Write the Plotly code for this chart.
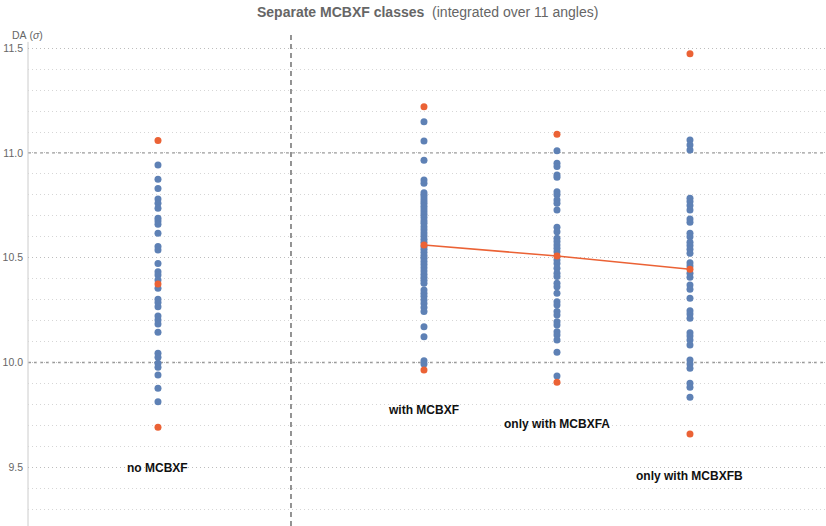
import plotly.graph_objects as go

# Dynamic aperture (sigma) per seed for each MCBXF configuration
classes = ["no MCBXF", "with MCBXF", "only with MCBXFA", "only with MCBXFB"]
class_pos = [1, 3, 4, 5]
separator_pos = 2

da_no_mcbxf = [
    10.943, 10.874, 10.830, 10.780, 10.760, 10.736, 10.688, 10.675, 10.660,
    10.617, 10.553, 10.537, 10.473, 10.433, 10.418, 10.394, 10.354, 10.302,
    10.286, 10.266, 10.222, 10.203, 10.184, 10.144, 10.044, 10.025, 9.996,
    9.977, 9.940, 9.877, 9.813,
]
da_with_mcbxf = [
    11.149, 11.057, 10.965, 10.871, 10.855, 10.810, 10.798, 10.785, 10.772,
    10.760, 10.746, 10.733, 10.720, 10.706, 10.692, 10.677, 10.664, 10.648,
    10.633, 10.618, 10.604, 10.588, 10.574, 10.553, 10.540, 10.526, 10.511,
    10.497, 10.482, 10.468, 10.452, 10.437, 10.421, 10.407, 10.392, 10.378,
    10.346, 10.331, 10.316, 10.298, 10.281, 10.262, 10.243, 10.171, 10.123,
    10.008, 9.993,
]
da_only_mcbxfa = [
    11.011, 10.951, 10.935, 10.895, 10.884, 10.815, 10.800, 10.776, 10.760,
    10.728, 10.645, 10.624, 10.593, 10.577, 10.561, 10.545, 10.529, 10.489,
    10.473, 10.450, 10.426, 10.410, 10.378, 10.362, 10.330, 10.290, 10.274,
    10.243, 10.227, 10.195, 10.179, 10.147, 10.131, 10.107, 10.049, 9.936,
]
da_only_mcbxfb = [
    11.062, 11.038, 11.014, 10.784, 10.768, 10.749, 10.728, 10.685, 10.669,
    10.617, 10.600, 10.574, 10.558, 10.540, 10.521, 10.476, 10.461, 10.426,
    10.407, 10.370, 10.349, 10.306, 10.247, 10.231, 10.211, 10.142, 10.126,
    10.107, 10.084, 10.012, 9.993, 9.972, 9.901, 9.882, 9.834,
]
seed_values = [da_no_mcbxf, da_with_mcbxf, da_only_mcbxfa, da_only_mcbxfb]

# Summary per class: maximum, mean and minimum DA over seeds
da_max = [11.059, 11.221, 11.089, 11.473]
da_mean = [10.375, 10.561, 10.508, 10.445]
da_min = [9.691, 9.964, 9.906, 9.659]

# Vertical position of each class label
label_y = [9.496, 9.773, 9.706, 9.458]

Y_MIN, Y_MAX = 9.2196, 11.563
AXIS_TOP = 11.53

BLUE = "#5E81B5"
ORANGE = "#EB6235"
GREY = "#666666"
FONT = "Liberation Sans, Arial"

fig = go.Figure()

for pos, vals in zip(class_pos, seed_values):
    fig.add_trace(go.Scatter(
        x=[pos] * len(vals), y=vals, mode="markers",
        marker=dict(color=BLUE, size=7, line=dict(width=0)),
        hoverinfo="y", showlegend=False,
    ))

# Mean trend across the MCBXF variants
fig.add_trace(go.Scatter(
    x=class_pos[1:], y=da_mean[1:], mode="lines",
    line=dict(color=ORANGE, width=1.5), hoverinfo="skip", showlegend=False,
))

stat_x = class_pos * 3
stat_y = da_max + da_mean + da_min
fig.add_trace(go.Scatter(
    x=stat_x, y=stat_y, mode="markers",
    marker=dict(color=ORANGE, size=7, line=dict(width=0)),
    hoverinfo="y", showlegend=False,
))

# Dashed reference lines at whole sigma values
for yv in (10.0, 11.0):
    fig.add_shape(type="line", xref="paper", x0=0, x1=1, yref="y", y0=yv, y1=yv,
                  line=dict(color="#9a9a9a", width=1.3, dash="3px,3px"), layer="below")

# Separator between the baseline and the MCBXF variants
fig.add_shape(type="line", xref="x", x0=separator_pos, x1=separator_pos,
              yref="paper", y0=0, y1=1,
              line=dict(color="#7a7a7a", width=1.6, dash="5px,4px"), layer="below")

# Left axis line, stopping below the axis label
fig.add_shape(type="line", xref="paper", x0=0, x1=0, yref="y", y0=Y_MIN, y1=AXIS_TOP,
              line=dict(color="#cccccc", width=1), layer="below")

for pos, name, ly in zip(class_pos, classes, label_y):
    fig.add_annotation(x=pos, y=ly, text=f"<b>{name}</b>", showarrow=False,
                       font=dict(size=12, color="#111111", family=FONT))

fig.add_annotation(
    xref="paper", yref="paper", x=0.5, y=1, yshift=23, xanchor="center", yanchor="middle",
    text="<b>Separate MCBXF classes</b>  (integrated over 11 angles)",
    showarrow=False, font=dict(size=14, color=GREY, family=FONT),
)
fig.add_annotation(
    xref="paper", yref="paper", x=0, xshift=-18, y=1, yshift=0, xanchor="left", yanchor="middle",
    text="DA\u00a0(<i>σ</i>)", showarrow=False,
    font=dict(size=10.5, color=GREY, family=FONT),
)

fig.update_layout(
    width=826, height=526,
    margin=dict(l=28, r=0, t=35, b=0),
    paper_bgcolor="white", plot_bgcolor="white",
    font=dict(family=FONT, size=10, color=GREY),
    xaxis=dict(range=[0.0226, 6.0226], visible=False, showgrid=False, zeroline=False),
    yaxis=dict(
        range=[Y_MIN, Y_MAX], tickmode="array",
        tickvals=[9.5, 10.0, 10.5, 11.0, 11.5], ticktext=["9.5", "10.0", "10.5", "11.0", "11.5"],
        showgrid=True, gridcolor="#bdbdbd", griddash="1px,3px", gridwidth=1,
        minor=dict(dtick=0.1, tick0=9.2, showgrid=True, gridcolor="#d6d6d6",
                   griddash="1px,3px", gridwidth=1, ticks=""),
        showline=False,
        ticks="", ticklabelstandoff=4, zeroline=False,
        tickfont=dict(size=10.5, color=GREY),
    ),
)

fig.write_html("out.html")
